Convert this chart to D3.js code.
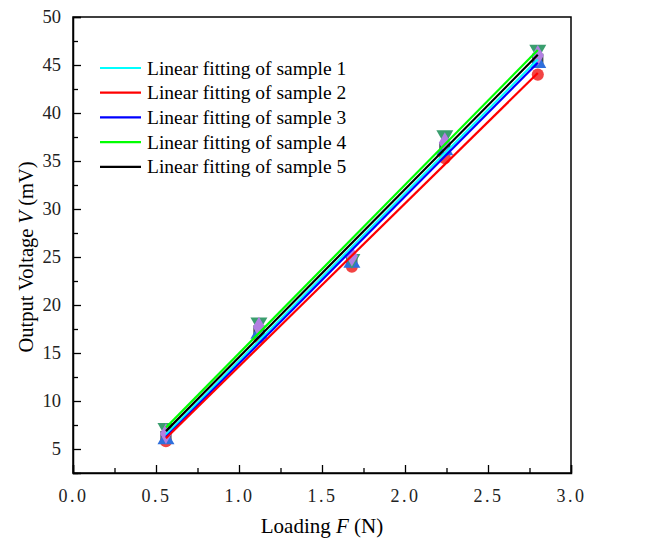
<!DOCTYPE html>
<html>
<head>
<meta charset="utf-8">
<script src="https://cdn.jsdelivr.net/npm/d3@7"></script>
<style>
  body { margin: 0; background: #fff; }
  text { font-family: "Liberation Serif", "Times New Roman", serif; }
</style>
</head>
<body>
<div id="chart"></div>
<script>
const width = 654;
const height = 542;

// loading F (N)
const loads = [0.56, 1.12, 1.68, 2.24, 2.80];

const sample1 = [6.3, 17.3, 24.6, 36.4, 45.6];
const sample2 = [5.8, 16.6, 24.0, 35.3, 44.0];
const sample3 = [6.0, 17.0, 24.4, 36.1, 45.2];
const sample4 = [7.2, 18.2, 24.8, 37.7, 46.6];
const sample5 = [6.6, 17.7, 25.1, 36.9, 46.0];

const seriesNames = ["sample 1", "sample 2", "sample 3", "sample 4", "sample 5"];
const lineColors = ["#00ffff", "#ff0000", "#0000ff", "#00ff00", "#000000"];
const markerColors = ["#3c4a52", "#f24444", "#2f6fdc", "#3a9e6e", "#b27fe2"];
const markerShapes = [d3.symbolSquare, d3.symbolCircle, d3.symbolTriangle, d3.symbolTriangle, d3.symbolDiamond];

const xTicks = [0, 0.5, 1.0, 1.5, 2.0, 2.5, 3.0];
const yTicks = [5, 10, 15, 20, 25, 30, 35, 40, 45, 50];

const allSeries = [sample1, sample2, sample3, sample4, sample5];

const margin = { top: 17, right: 83, bottom: 69, left: 73 };
const innerW = width - margin.left - margin.right;
const innerH = height - margin.top - margin.bottom;

const x = d3.scaleLinear().domain([0, 3]).range([0, innerW]);
const y = d3.scaleLinear().domain([2.5, 50]).range([innerH, 0]);

const svg = d3.select("#chart").append("svg")
  .attr("width", width)
  .attr("height", height);

const g = svg.append("g")
  .attr("transform", `translate(${margin.left},${margin.top})`);

// least squares fit for each sample
function fit(ys) {
  const mx = d3.mean(loads), my = d3.mean(ys);
  let sxy = 0, sxx = 0;
  loads.forEach((v, i) => { sxy += (v - mx) * (ys[i] - my); sxx += (v - mx) * (v - mx); });
  const k = sxy / sxx;
  return { k: k, b: my - k * mx };
}

// markers
allSeries.forEach((ys, si) => {
  const sym = d3.symbol().type(markerShapes[si]).size(si === 1 ? 115 : 125);
  g.selectAll(".m" + si)
    .data(ys)
    .enter().append("path")
    .attr("class", "m" + si)
    .attr("d", sym)
    .attr("transform", (d, i) => `translate(${x(loads[i])},${y(d)})` + (si === 3 ? " rotate(180)" : ""))
    .attr("fill", markerColors[si]);
});

// fitted lines
const drawOrder = [0, 2, 1, 4, 3];
drawOrder.forEach(si => {
  const f = fit(allSeries[si]);
  const x0 = loads[0], x1 = loads[loads.length - 1];
  g.append("line")
    .attr("x1", x(x0)).attr("y1", y(f.k * x0 + f.b))
    .attr("x2", x(x1)).attr("y2", y(f.k * x1 + f.b))
    .attr("stroke", lineColors[si])
    .attr("stroke-width", 2.2);
});

// frame
g.append("rect")
  .attr("width", innerW).attr("height", innerH)
  .attr("fill", "none").attr("stroke", "#000").attr("stroke-width", 1.5);

// x axis
const xAxis = g.append("g").attr("transform", `translate(0,${innerH})`)
  .call(d3.axisBottom(x).tickValues(xTicks).tickSize(-8).tickPadding(16).tickFormat(d3.format(".1f")));
g.append("g").attr("transform", `translate(0,${innerH})`)
  .call(d3.axisBottom(x).tickValues(d3.range(0.25, 3, 0.5)).tickSize(-5).tickFormat(""))
  .call(a => a.select(".domain").remove());
xAxis.selectAll("text").attr("font-size", 18).attr("letter-spacing", 2.5).attr("fill", "#222");

// y axis
const yAxis = g.append("g")
  .call(d3.axisLeft(y).tickValues(yTicks).tickSize(-8).tickPadding(12));
g.append("g")
  .call(d3.axisLeft(y).tickValues(d3.range(2.5, 50, 5)).tickSize(-5).tickFormat(""))
  .call(a => a.select(".domain").remove());
yAxis.selectAll("text").attr("font-size", 18.5).attr("fill", "#222");

g.selectAll(".domain").attr("stroke-width", 1.5);
g.selectAll(".tick line").attr("stroke-width", 1.3);

// axis titles
svg.append("text")
  .attr("x", margin.left + innerW / 2)
  .attr("y", 533)
  .attr("text-anchor", "middle")
  .attr("font-size", 21)
  .html('Loading <tspan font-style="italic">F</tspan> (N)');

svg.append("text")
  .attr("transform", `translate(33,257) rotate(-90)`)
  .attr("text-anchor", "middle")
  .attr("font-size", 20.5)
  .html('Output Voltage <tspan font-style="italic">V</tspan> (mV)');

// legend
const legend = g.append("g").attr("transform", "translate(27,51)");
seriesNames.forEach((name, i) => {
  const row = legend.append("g").attr("transform", `translate(0,${i * 24.7})`);
  row.append("line")
    .attr("x1", 0).attr("x2", 41)
    .attr("stroke", lineColors[i]).attr("stroke-width", 2.2);
  row.append("text")
    .attr("x", 47).attr("y", 6.5)
    .attr("font-size", 19.5)
    .text("Linear fitting of " + name);
});
</script>
</body>
</html>
